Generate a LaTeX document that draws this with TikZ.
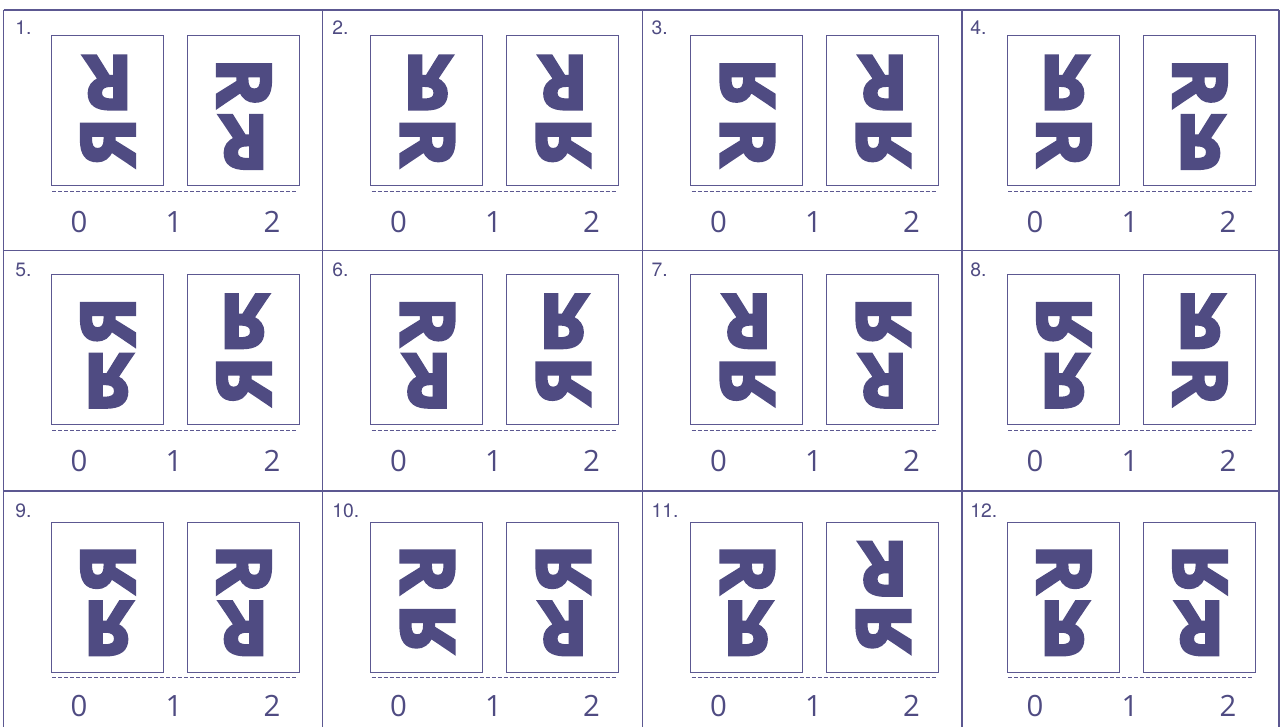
\documentclass[tikz,border=0pt]{standalone}
\usepackage{fontspec}
\setmainfont{TeX Gyre Heros}
\newfontfamily\numfont{Open Sans}
\newfontfamily\rfont{Open Sans}[BoldFeatures={FakeBold=4}]
\definecolor{ink}{HTML}{4F4B82}
\definecolor{rule}{HTML}{5C5891}
\tikzset{
  cellline/.style={draw=rule, line width=1pt},
  pagebox/.style={draw=rule, line width=0.75pt},
  dashline/.style={draw=rule, line width=0.75pt, dash pattern=on 3pt off 1.5pt},
  celllabel/.style={anchor=west, inner sep=0pt, text=ink, font=\fontsize{14.5}{17}\selectfont},
  num/.style={inner sep=0pt, text=ink, font=\numfont\fontsize{22}{26}\selectfont},
  glyph/.style={inner sep=0pt, text=ink, font=\rfont\bfseries\fontsize{56}{60}\selectfont},
  oN/.style={cm={1,0,0,1,(0,0)}},
  oH/.style={cm={-1,0,0,1,(0,0)}},
  oU/.style={cm={-1,0,0,-1,(0,0)}},
  oV/.style={cm={1,0,0,-1,(0,0)}},
  oL/.style={cm={0,1,-1,0,(0,0)}},
  oR/.style={cm={0,-1,1,0,(0,0)}},
  oT/.style={cm={0,1,1,0,(0,0)}},
  oA/.style={cm={0,-1,-1,0,(0,0)}},
}
\begin{document}
\begin{tikzpicture}[x=0.75pt,y=-0.75pt]
\useasboundingbox (0,0) rectangle (1280,727);
\fill[white] (0,0) rectangle (1280,727);
% grid
\foreach \yy in {10,250.5,491} \draw[cellline] (3.5,\yy) -- (1279,\yy);
\foreach \xx in {3.5,322.5,642.5,962,1279} \draw[cellline] (\xx,10) -- (\xx,727);
% cells
\foreach \n/\px/\py/\lx/\ly/\ny/\a/\b/\c/\d in {
  1/51/36/15/28/222/U/A/R/U,
  2/370.5/36/332/28/222/V/R/U/A,
  3/690.5/36/651.3/28/222/A/R/U/A,
  4/1007/36/970/28/222/V/R/R/V,
  5/51/274.7/15/269.7/461.3/A/V/V/A,
  6/370.5/274.7/332/269.7/461.3/R/U/V/A,
  7/690.5/274.7/651.3/269.7/461.3/U/A/A/U,
  8/1007/274.7/970/269.7/461.3/A/V/V/R,
  9/51/522.3/15/510.7/706/A/V/R/U,
  10/370.5/522.3/332/510.7/706/R/A/A/U,
  11/690.5/522.3/651.3/510.7/706/R/V/U/A,
  12/1007/522.3/970/510.7/706/R/V/A/U}{
  \node[celllabel] (lab\n) at (\lx,\ly) {\n.};
  \draw[pagebox] (\px,\py) rectangle ++(112,150);
  \draw[pagebox] (\px+136,\py) rectangle ++(112,150);
  \node[glyph,o\a] (ga\n) at (\px+57,\py+46.5) {R};
  \node[glyph,o\b] (gb\n) at (\px+57,\py+106) {R};
  \node[glyph,o\c] (gc\n) at (\px+193,\py+46.5) {R};
  \node[glyph,o\d] (gd\n) at (\px+193,\py+106) {R};
  \draw[dashline] (\px+1,\py+155.5) -- (\px+246,\py+155.5);
  \node[num] (n0\n) at (\px+28,\ny) {0};
  \node[num] (n1\n) at (\px+123,\ny) {1};
  \node[num] (n2\n) at (\px+221,\ny) {2};
}
\end{tikzpicture}
\end{document}
